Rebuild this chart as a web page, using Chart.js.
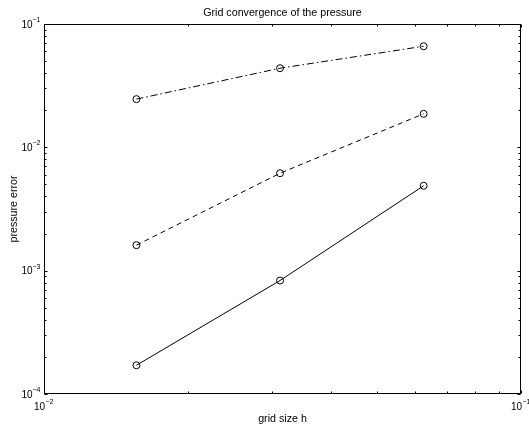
<!DOCTYPE html>
<html>
<head>
<meta charset="utf-8">
<script src="https://cdn.jsdelivr.net/npm/chart.js@4/dist/chart.umd.min.js"></script>
<style>
  html, body { margin: 0; padding: 0; background: #fff; }
  #wrap { width: 529px; height: 424px; }
</style>
</head>
<body>
<div id="wrap"><canvas id="c"></canvas></div>
<script>
// grid sizes h (x values)
const gridSizes = [1 / 64, 1 / 32, 1 / 16];
// pressure error per series
const errSolid = [0.000171, 0.000832, 0.00488];
const errDashed = [0.00161, 0.00617, 0.0187];
const errDashDot = [0.0246, 0.0438, 0.066];
// axis decades
const xDecades = [0.01, 0.1];
const yDecades = [0.0001, 0.001, 0.01, 0.1];

const titleText = 'Grid convergence of the pressure';
const xLabel = 'grid size h';
const yLabel = 'pressure error';
const FONT = '"Liberation Sans", Arial, Helvetica, sans-serif';

function toPoints(ys) {
  return gridSizes.map((x, i) => ({ x: x, y: ys[i] }));
}

function series(ys, dash) {
  return {
    data: toPoints(ys),
    showLine: true,
    borderColor: '#000',
    borderWidth: 1,
    borderDash: dash,
    pointStyle: 'circle',
    pointRadius: 3.5,
    pointBorderWidth: 1,
    pointBorderColor: '#000',
    pointBackgroundColor: 'rgba(0,0,0,0)',
    tension: 0
  };
}

// minor tick values inside each decade (2..9 x decade)
function minorTicks(decades) {
  const out = [];
  for (let i = 0; i < decades.length - 1; i++) {
    for (let k = 2; k <= 9; k++) out.push(decades[i] * k);
  }
  return out;
}

function powLabel(ctx, v, x, y, axis) {
  const exp = Math.round(Math.log10(v));
  const e = (exp < 0 ? '\u2212' : '') + Math.abs(exp);
  ctx.fillStyle = '#000';
  ctx.textBaseline = 'middle';
  if (axis === 'y') {
    ctx.font = '10px ' + FONT;
    ctx.textAlign = 'right';
    ctx.fillText('10', x - 12, y + 1);
    ctx.font = '7px ' + FONT;
    ctx.textAlign = 'left';
    ctx.fillText(e, x - 12, y - 4);
  } else {
    ctx.font = '10px ' + FONT;
    ctx.textAlign = 'right';
    ctx.fillText('10', x + 1, y + 13.5);
    ctx.font = '7px ' + FONT;
    ctx.textAlign = 'left';
    ctx.fillText(e, x + 1.5, y + 8.5);
  }
}

const matlabAxes = {
  id: 'matlabAxes',
  afterDatasetsDraw(chart) {
    const ctx = chart.ctx;
    const a = chart.chartArea;
    const xs = chart.scales.x;
    const ys = chart.scales.y;
    const L = Math.round(a.left) + 0.5, R = Math.round(a.right) - 0.5;
    const T = Math.round(a.top) + 0.5, B = Math.round(a.bottom) - 0.5;
    ctx.save();
    ctx.strokeStyle = '#000';
    ctx.lineWidth = 1;
    ctx.setLineDash([]);
    ctx.strokeRect(L, T, R - L, B - T);

    ctx.beginPath();
    const tick = (v, len, axis) => {
      if (axis === 'x') {
        const px = Math.round(xs.getPixelForValue(v)) + 0.5;
        ctx.moveTo(px, B); ctx.lineTo(px, B - len);
        ctx.moveTo(px, T); ctx.lineTo(px, T + len);
      } else {
        const py = Math.round(ys.getPixelForValue(v)) + 0.5;
        ctx.moveTo(L, py); ctx.lineTo(L + len, py);
        ctx.moveTo(R, py); ctx.lineTo(R - len, py);
      }
    };
    xDecades.forEach(v => tick(v, 3, 'x'));
    minorTicks(xDecades).forEach(v => tick(v, 2, 'x'));
    yDecades.forEach(v => tick(v, 3, 'y'));
    minorTicks(yDecades).forEach(v => tick(v, 2, 'y'));
    ctx.stroke();

    xDecades.forEach(v => powLabel(ctx, v, xs.getPixelForValue(v), B, 'x'));
    yDecades.forEach(v => powLabel(ctx, v, L, ys.getPixelForValue(v), 'y'));

    ctx.fillStyle = '#000';
    ctx.font = '10.7px ' + FONT;
    ctx.textAlign = 'center';
    ctx.textBaseline = 'middle';
    const cx = (a.left + a.right) / 2;
    ctx.fillText(titleText, cx, 13);
    ctx.fillText(xLabel, cx, 419.5);
    ctx.translate(14, (a.top + a.bottom) / 2);
    ctx.rotate(-Math.PI / 2);
    ctx.fillText(yLabel, 0, 0);
    ctx.restore();
  }
};

new Chart(document.getElementById('c'), {
  type: 'scatter',
  data: {
    datasets: [
      series(errSolid, []),
      series(errDashed, [5, 4]),
      series(errDashDot, [7, 3, 1.5, 3])
    ]
  },
  options: {
    responsive: true,
    maintainAspectRatio: false,
    animation: false,
    layout: { padding: { left: 44, top: 24, right: 8, bottom: 30 } },
    plugins: {
      legend: { display: false },
      tooltip: { enabled: false },
      title: { display: false }
    },
    scales: {
      x: { type: 'logarithmic', min: xDecades[0], max: xDecades[xDecades.length - 1], display: false },
      y: { type: 'logarithmic', min: yDecades[0], max: yDecades[yDecades.length - 1], display: false }
    }
  },
  plugins: [matlabAxes]
});
</script>
</body>
</html>
